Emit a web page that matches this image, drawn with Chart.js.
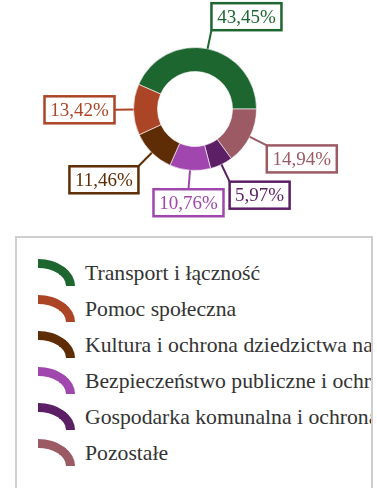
<!DOCTYPE html>
<html lang="pl">
<head>
<meta charset="utf-8">
<script src="https://cdn.jsdelivr.net/npm/chart.js@4/dist/chart.umd.min.js"></script>
<style>
  html, body { margin: 0; padding: 0; background: #fff; width: 377px; height: 488px; overflow: hidden; }
  #wrap { position: absolute; left: 0; top: 0; width: 377px; height: 230px; }
  #legend {
    position: absolute; left: 15px; top: 236px; width: 354px; height: 280px;
    border: 2px solid #cfcfcf; overflow: hidden; box-sizing: content-box;
    font-family: "Liberation Serif", "Times New Roman", Times, serif;
    font-size: 21.7px; color: #333;
  }
  .item { position: absolute; left: 0; height: 30px; white-space: nowrap; }
  .icon {
    position: absolute; left: 21px; top: 0;
    width: 28px; height: 18px;
    border-style: solid; border-width: 9px 9px 0 0;
    border-top-right-radius: 37px 27px;
  }
  .txt { position: absolute; left: 68px; top: 2px; line-height: 24px; }
</style>
</head>
<body>
<div id="wrap"><canvas id="c" width="377" height="230"></canvas></div>
<div id="legend"></div>
<script>
// Budget shares by section (percent), in legend order
const categories = [
  "Transport i łączność",
  "Pomoc społeczna",
  "Kultura i ochrona dziedzictwa narodowego",
  "Bezpieczeństwo publiczne i ochrona przeciwpożarowa",
  "Gospodarka komunalna i ochrona środowiska",
  "Pozostałe"
];
const shares = [43.45, 13.42, 11.46, 10.76, 5.97, 14.94];
const colors = ["#1e6630", "#ac4426", "#5e2d06", "#a046ae", "#5c1f66", "#9c5a64"];

// The ring runs counter-clockwise from 3 o'clock: the first section ends at 0°,
// the rest follow it backwards, so the dataset is fed in reverse after the first item.
const drawOrder = [0, 5, 4, 3, 2, 1];
const ringLabels = drawOrder.map(i => categories[i]);
const ringValues = drawOrder.map(i => shares[i]);
const ringColors = drawOrder.map(i => colors[i]);
const total = shares.reduce((a, b) => a + b, 0);
const startRotation = 90 - shares[0] / total * 360;

const fmt = v => v.toFixed(2).replace('.', ',') + '%';
const SERIF = '"Liberation Serif", "Times New Roman", Times, serif';

// Boxed value labels with leader lines
const boxedLabels = {
  id: 'boxedLabels',
  afterDatasetsDraw(chart) {
    const ctx = chart.ctx;
    const meta = chart.getDatasetMeta(0);
    const ds = chart.data.datasets[0];
    ctx.save();
    ctx.font = '19px ' + SERIF;
    meta.data.forEach((arc, i) => {
      const p = arc.getProps(['x', 'y', 'startAngle', 'endAngle', 'outerRadius'], true);
      const mid = (p.startAngle + p.endAngle) / 2;
      const c = Math.cos(mid), s = Math.sin(mid);
      const x0 = p.x + c * p.outerRadius, y0 = p.y + s * p.outerRadius;
      const x1 = p.x + c * (p.outerRadius + 19), y1 = p.y + s * (p.outerRadius + 19);
      const col = ds.backgroundColor[i];
      const text = fmt(ds.data[i]);
      const w = Math.round(ctx.measureText(text).width) + 11;
      const h = 27;
      let bx, by;
      if (c > 0.15) bx = x1; else if (c < -0.15) bx = x1 - w; else bx = x1 - w / 2;
      if (s > 0.3) by = y1; else if (s < -0.3) by = y1 - h; else by = y1 - h / 2;
      ctx.strokeStyle = col;
      ctx.lineWidth = 2;
      ctx.beginPath();
      ctx.moveTo(x0, y0);
      ctx.lineTo(x1, y1);
      ctx.stroke();
      ctx.fillStyle = '#fff';
      ctx.fillRect(bx, by, w, h);
      ctx.lineWidth = 2.5;
      ctx.strokeRect(bx, by, w, h);
      ctx.fillStyle = col;
      ctx.textAlign = 'center';
      ctx.textBaseline = 'middle';
      ctx.fillText(text, bx + w / 2, by + h / 2 + 1);
    });
    ctx.restore();
  }
};

new Chart(document.getElementById('c'), {
  type: 'doughnut',
  data: {
    labels: ringLabels,
    datasets: [{
      data: ringValues,
      backgroundColor: ringColors,
      borderColor: 'rgba(255,255,255,0.6)',
      borderWidth: 1
    }]
  },
  options: {
    responsive: false,
    animation: false,
    rotation: startRotation,
    cutout: '61%',
    layout: { padding: { left: 133, right: 120, top: 47, bottom: 59 } },
    plugins: { legend: { display: false }, tooltip: { enabled: false } },
    events: []
  },
  plugins: [boxedLabels]
});

// Legend with arc-shaped swatches
const legend = document.getElementById('legend');
categories.forEach((name, i) => {
  const row = document.createElement('div');
  row.className = 'item';
  row.style.top = (21 + i * 36) + 'px';
  const icon = document.createElement('div');
  icon.className = 'icon';
  icon.style.borderColor = colors[i];
  const t = document.createElement('div');
  t.className = 'txt';
  t.textContent = name;
  row.appendChild(icon);
  row.appendChild(t);
  legend.appendChild(row);
});
</script>
</body>
</html>
